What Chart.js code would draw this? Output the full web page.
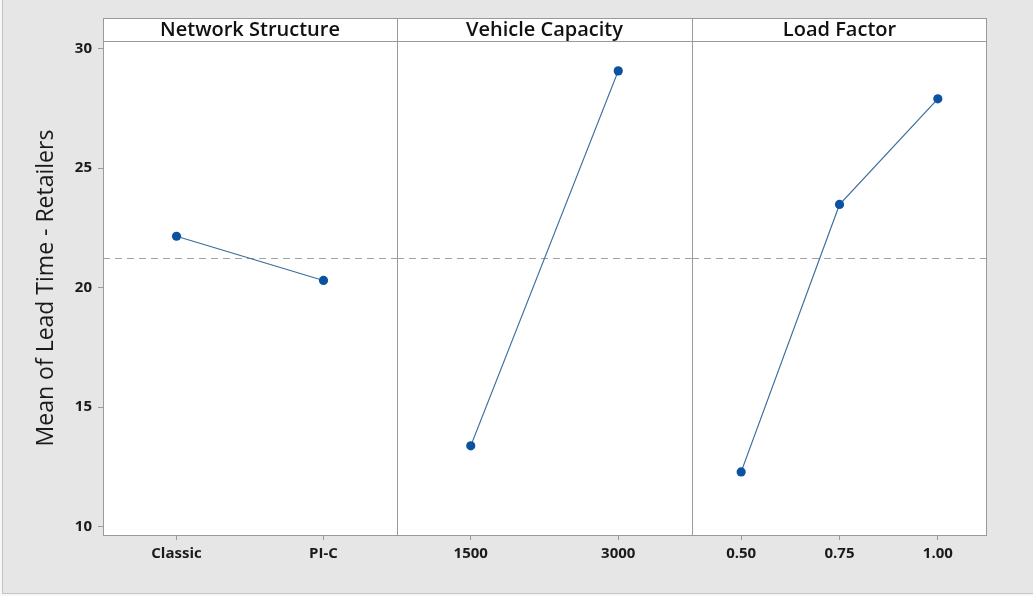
<!DOCTYPE html>
<html>
<head>
<meta charset="utf-8">
<title>Main Effects Plot for Mean of Lead Time - Retailers</title>
<script src="https://cdn.jsdelivr.net/npm/chart.js@4/dist/chart.umd.min.js"></script>
<style>
  html, body { margin: 0; padding: 0; width: 1033px; height: 596px; overflow: hidden; background: #f7f7f7; }
  #frame { position: absolute; left: 2px; top: -2px; width: 1040px; height: 596px; box-sizing: border-box;
           background: #e6e6e6; border: 1px solid #c4c4c4; }
  .panel { position: absolute; top: 0; }
  canvas { display: block; }
</style>
</head>
<body>
<div id="frame"></div>
<div class="panel" style="left:0px"><canvas id="c1" width="397" height="596"></canvas></div>
<div class="panel" style="left:397px"><canvas id="c2" width="295" height="596"></canvas></div>
<div class="panel" style="left:692px"><canvas id="c3" width="295" height="596"></canvas></div>
<script>
// Factor names shown in the header strips
const panelTitles = ['Network Structure', 'Vehicle Capacity', 'Load Factor'];

// Factor levels and the mean response at each level
const structureLevels = ['Classic', 'PI-C'];
const structureMeans = [22.15, 20.30];

const capacityLevels = ['1500', '3000'];
const capacityMeans = [13.38, 29.07];

const loadLevels = ['0.50', '0.75', '1.00'];
const loadMeans = [12.29, 23.48, 27.90];

// Overall mean (dashed reference line)
const grandMean = 21.22;

// Response axis
const yTicks = [10, 15, 20, 25, 30];
const yMin = 9.65;
const yMax = 30.32;
const yTitle = 'Mean of Lead Time - Retailers';

const STRIP_TOP = 18;
const PLOT_TOP = 41;
const FRAME = '#9a9a9a';
const FONT = "'Open Sans', 'Noto Sans', sans-serif";

// Draws the white panel, header strip, border lines and the overall-mean line
const panelFrame = {
  id: 'panelFrame',
  beforeDraw(chart, args, opts) {
    const { ctx, chartArea: a } = chart;
    ctx.save();
    ctx.fillStyle = '#ffffff';
    ctx.fillRect(a.left, STRIP_TOP, a.right - a.left, a.bottom - STRIP_TOP);
    ctx.restore();
  },
  beforeDatasetsDraw(chart, args, opts) {
    const { ctx, chartArea: a, scales } = chart;
    const y = Math.round(scales.y.getPixelForValue(grandMean)) + 0.5;
    ctx.save();
    ctx.strokeStyle = '#a3a3a3';
    ctx.lineWidth = 1;
    ctx.setLineDash([7, 5]);
    ctx.beginPath();
    ctx.moveTo(a.left, y);
    ctx.lineTo(a.right, y);
    ctx.stroke();
    ctx.restore();
  },
  afterDraw(chart, args, opts) {
    const { ctx, chartArea: a } = chart;
    ctx.save();
    ctx.strokeStyle = FRAME;
    ctx.lineWidth = 1;
    ctx.beginPath();
    // left edge
    ctx.moveTo(a.left + 0.5, STRIP_TOP);
    ctx.lineTo(a.left + 0.5, a.bottom + 1);
    // strip top, strip bottom, plot bottom
    ctx.moveTo(a.left, STRIP_TOP + 0.5);
    ctx.lineTo(a.right, STRIP_TOP + 0.5);
    ctx.moveTo(a.left, a.top + 0.5);
    ctx.lineTo(a.right, a.top + 0.5);
    ctx.moveTo(a.left, a.bottom + 0.5);
    ctx.lineTo(a.right, a.bottom + 0.5);
    if (opts.closeRight) {
      ctx.moveTo(a.right - 0.5, STRIP_TOP);
      ctx.lineTo(a.right - 0.5, a.bottom + 1);
    }
    ctx.stroke();
    // header text
    ctx.fillStyle = '#111111';
    ctx.font = '600 20px ' + FONT;
    ctx.textAlign = 'center';
    ctx.textBaseline = 'middle';
    ctx.fillText(opts.title, (a.left + a.right) / 2, (STRIP_TOP + a.top) / 2 + 1);
    ctx.restore();
  }
};

function makePanel(canvasId, title, levels, means, showY, closeRight) {
  return new Chart(document.getElementById(canvasId), {
    type: 'line',
    data: {
      labels: levels,
      datasets: [{
        data: means,
        borderColor: '#3c6d9b',
        borderWidth: 1.2,
        tension: 0,
        pointRadius: 4.6,
        pointBackgroundColor: '#0b52a0',
        pointBorderColor: '#0b52a0',
        pointBorderWidth: 0,
        clip: false
      }]
    },
    options: {
      responsive: false,
      animation: false,
      events: [],
      layout: { autoPadding: false, padding: { top: PLOT_TOP, left: 0, right: 0, bottom: 0 } },
      plugins: {
        legend: { display: false },
        tooltip: { enabled: false },
        panelFrame: { title: title, closeRight: closeRight }
      },
      scales: {
        x: {
          type: 'category',
          offset: true,
          grid: { offset: false, drawOnChartArea: false, drawTicks: true, tickLength: 5, color: FRAME },
          border: { display: false },
          ticks: { color: '#1a1a1a', padding: 5, maxRotation: 0, font: { family: FONT, size: 15, weight: 'bold' } },
          afterFit(s) { s.height = 61; }
        },
        y: {
          display: showY,
          min: yMin,
          max: yMax,
          afterBuildTicks(s) { s.ticks = yTicks.map(v => ({ value: v })); },
          grid: { drawOnChartArea: false, drawTicks: true, tickLength: 5, color: FRAME },
          border: { display: false },
          ticks: { color: '#1a1a1a', padding: 6, font: { family: FONT, size: 15, weight: 'bold' } },
          title: {
            display: true,
            text: yTitle,
            color: '#1a1a1a',
            font: { family: FONT, size: 23, weight: 'normal' },
            padding: { top: 33, bottom: 0 }
          },
          afterFit(s) { s.width = showY ? 103 : 0; }
        }
      }
    },
    plugins: [panelFrame]
  });
}

makePanel('c1', panelTitles[0], structureLevels, structureMeans, true, false);
makePanel('c2', panelTitles[1], capacityLevels, capacityMeans, false, false);
makePanel('c3', panelTitles[2], loadLevels, loadMeans, false, true);
</script>
</body>
</html>
